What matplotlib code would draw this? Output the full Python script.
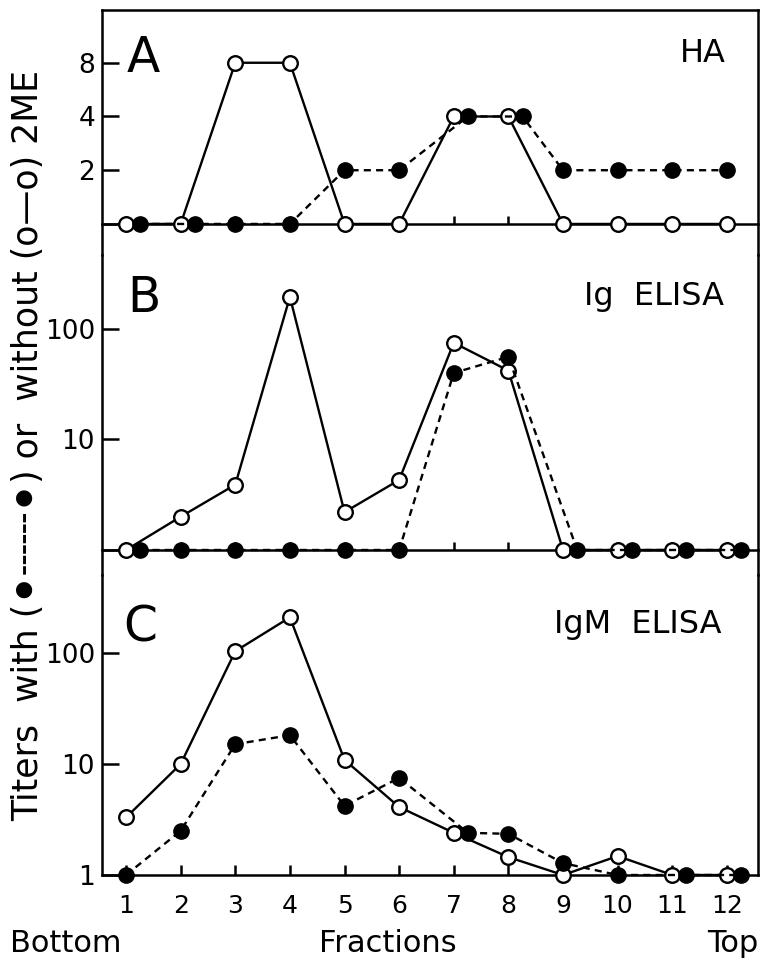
import numpy as np
import matplotlib.pyplot as plt

# fractions of the gradient, bottom -> top
fractions = np.arange(1, 13)

# A: HA titers (1 = not detected)
ha_without = [1, 1, 8, 8, 1, 1, 4, 4, 1, 1, 1, 1]
ha_with = [1, 1, 1, 1, 2, 2, 4, 4, 2, 2, 2, 2]

# B: Ig ELISA titers
ig_without = [1, 2.0, 3.9, 195, 2.2, 4.3, 75, 42, 1, 1, 1, 1]
ig_with = [1, 1, 1, 1, 1, 1, 40, 56, 1, 1, 1, 1]

# C: IgM ELISA titers
igm_without = [3.3, 10, 104, 210, 10.9, 4.1, 2.4, 1.45, 1, 1.48, 1, 1]
igm_with = [1, 2.5, 15.1, 18.2, 4.2, 7.5, 2.4, 2.35, 1.28, 1, 1, 1]

letters = ["A", "B", "C"]
titles = ["HA", "Ig  ELISA", "IgM  ELISA"]
yticks = [[1, 2, 4, 8], [1, 10, 100], [1, 10, 100]]
yticklabels = [["", "2", "4", "8"], ["", "10", "100"], ["1", "10", "100"]]

plt.rcParams['font.family'] = ['DejaVu Sans']

W, H = 761, 963
fig = plt.figure(figsize=(W / 100, H / 100), dpi=100)


def fx(x):
    return x / W


def fy(y):
    return 1 - y / H


L = fx(102)
Wd = fx(758) - fx(102)
axA = fig.add_axes([L, fy(255), Wd, (255 - 10) / H])
axB = fig.add_axes([L, fy(575), Wd, (575 - 255) / H])
axC = fig.add_axes([L, fy(875), Wd, (875 - 575) / H])
axes = [axA, axB, axC]

data = [(ha_without, ha_with), (ig_without, ig_with), (igm_without, igm_with)]
ylims = [(0.67, 15.8), (0.594, 467), (1, 506)]

for i, ax in enumerate(axes):
    wo, wi = data[i]
    wo = np.array(wo, dtype=float)
    wi = np.array(wi, dtype=float)
    # filled symbol shifted a bit where both overlap
    shift = np.where(np.isclose(wo, wi), 0.26, 0.0)

    ax.plot(fractions, wo, '-', color='k', lw=1.7, marker='o', mfc='white',
            mec='k', mew=1.7, ms=10.5, zorder=3, clip_on=False)
    ax.plot(fractions + shift, wi, color='k', lw=1.7, ls=(0, (3, 2.2)),
            marker='o', mfc='k', mec='k', ms=11, zorder=4, clip_on=False)

    if i == 0:
        ax.set_yscale('log', base=2)
    else:
        ax.set_yscale('log')
    ax.minorticks_off()
    ax.set_xlim(0.56, 12.57)
    ax.set_ylim(*ylims[i])
    ax.set_yticks(yticks[i])
    ax.set_yticklabels(yticklabels[i])
    ax.set_xticks(fractions)

    for s in ax.spines.values():
        s.set_linewidth(1.8)
    if i > 0:
        ax.spines['top'].set_visible(False)
    ax.tick_params(axis='y', direction='in', length=12, width=1.8,
                   labelsize=19, pad=5)
    if i < 2:
        ax.spines['bottom'].set_position(('data', 1))
        ax.tick_params(axis='x', direction='in', length=5.5, width=1.8,
                       labelbottom=False)
    else:
        ax.set_xticklabels([str(f) for f in fractions])
        ax.tick_params(axis='x', direction='in', length=7, width=1.8,
                       labelsize=18, pad=14)
    ax.patch.set_alpha(0)

# panel letters and assay names
letter_pos = [(127, 72), (127, 312), (123, 641)]
title_pos = [(726, 62), (724, 305), (721, 633)]
for i in range(3):
    fig.text(fx(letter_pos[i][0]), fy(letter_pos[i][1]), letters[i],
             fontsize=35, ha='left', va='baseline')
    fig.text(fx(title_pos[i][0]), fy(title_pos[i][1]), titles[i],
             fontsize=23, ha='right', va='baseline')

fig.text(fx(28), fy(445), "Titers  with (⚫╌╌╌⚫) or  without (o—o) 2ME",
         rotation=90, ha='center', va='center', fontsize=25)

fig.text(fx(10), fy(952), "Bottom", fontsize=22, ha='left', va='baseline')
fig.text(fx(388), fy(952), "Fractions", fontsize=22, ha='center', va='baseline')
fig.text(fx(758), fy(952), "Top", fontsize=22, ha='right', va='baseline')

plt.savefig("out.png", dpi=100)
